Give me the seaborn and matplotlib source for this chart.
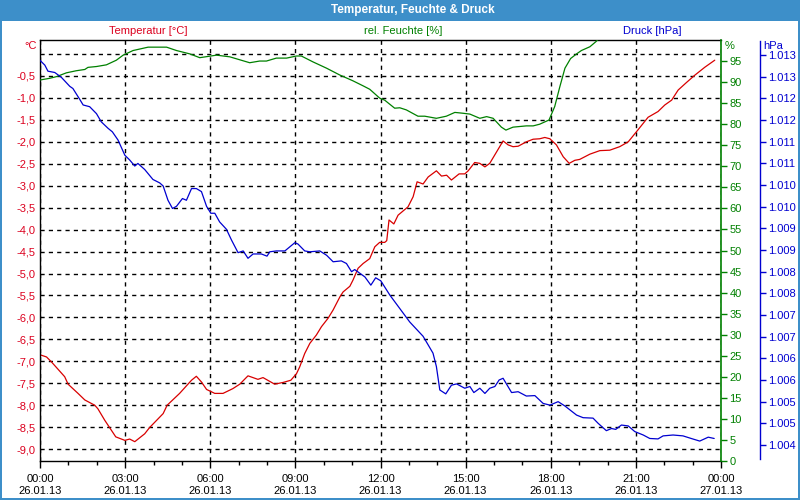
import numpy as np
import pandas as pd
import matplotlib
matplotlib.use("Agg")
import matplotlib.pyplot as plt
import seaborn as sns
from matplotlib.ticker import FixedLocator, FuncFormatter, MultipleLocator
from matplotlib.patches import Rectangle

# ---------------- data ----------------
temp_hours = [0.0,0.23,0.40,0.87,0.99,1.34,1.58,1.93,2.04,2.28,2.67,2.99,3.16,3.34,3.69,3.86,4.34,4.48,4.92,5.34,5.51,5.69,5.87,6.16,6.45,6.80,7.04,7.33,7.68,7.86,8.27,8.57,8.84,9.04,9.15,9.33,9.51,9.74,9.92,10.15,10.33,10.57,10.68,10.92,11.03,11.21,11.39,11.62,11.80,11.97,12.15,12.22,12.30,12.47,12.62,12.97,13.15,13.29,13.50,13.68,13.97,14.15,14.33,14.50,14.77,14.97,15.09,15.32,15.50,15.68,15.85,16.09,16.32,16.50,16.67,16.85,17.14,17.38,17.61,17.79,17.97,18.20,18.44,18.65,18.85,19.02,19.38,19.73,20.08,20.43,20.73,21.02,21.43,21.78,22.02,22.26,22.49,22.78,23.08,23.43,23.78]
temp_values = [-6.85,-6.90,-7.01,-7.35,-7.52,-7.73,-7.88,-8.00,-8.08,-8.34,-8.72,-8.80,-8.77,-8.83,-8.65,-8.51,-8.19,-8.00,-7.73,-7.43,-7.34,-7.47,-7.64,-7.73,-7.73,-7.62,-7.52,-7.33,-7.41,-7.37,-7.52,-7.48,-7.43,-7.28,-7.13,-6.82,-6.59,-6.40,-6.21,-6.02,-5.83,-5.53,-5.42,-5.29,-5.15,-4.88,-4.77,-4.66,-4.39,-4.29,-4.29,-4.25,-3.78,-3.87,-3.67,-3.48,-3.25,-2.91,-2.96,-2.80,-2.66,-2.78,-2.76,-2.87,-2.73,-2.73,-2.66,-2.47,-2.49,-2.57,-2.49,-2.23,-1.98,-2.07,-2.11,-2.10,-2.00,-1.94,-1.93,-1.90,-1.93,-2.07,-2.34,-2.49,-2.42,-2.40,-2.28,-2.20,-2.19,-2.11,-2.00,-1.77,-1.44,-1.31,-1.16,-1.05,-0.82,-0.65,-0.48,-0.30,-0.14]

hum_hours = [0.0,0.34,0.58,0.93,1.28,1.58,1.69,1.99,2.34,2.69,2.93,3.28,3.81,4.46,4.81,5.28,5.63,6.22,6.69,7.39,7.74,7.98,8.33,8.69,9.04,9.21,9.62,10.10,10.56,11.03,11.39,11.62,11.97,12.15,12.50,12.68,12.91,13.32,13.56,13.97,14.32,14.62,14.91,15.15,15.50,15.74,15.97,16.26,16.42,16.67,17.14,17.38,17.61,17.94,18.14,18.32,18.50,18.70,18.91,19.08,19.38,19.59,19.65]
hum_values = [90.5,90.9,91.3,92.2,92.7,93.0,93.5,93.7,94.1,95.2,96.4,97.5,98.3,98.3,97.5,96.7,95.8,96.4,96.0,94.6,95.0,95.0,95.7,95.7,96.2,96.2,94.8,93.3,91.7,90.3,89.1,88.3,86.2,85.7,83.8,83.9,83.4,81.9,81.9,81.4,81.9,82.8,82.6,82.4,81.4,81.8,81.4,79.3,78.6,79.3,79.6,79.6,80.0,81.0,84.2,88.9,93.3,95.6,96.7,97.5,98.4,99.6,100.0]

press_hours = [0.0,0.17,0.28,0.52,0.75,1.05,1.16,1.40,1.52,1.75,1.99,2.16,2.40,2.55,2.75,2.99,3.16,3.34,3.45,3.69,3.98,4.22,4.34,4.51,4.67,4.81,5.02,5.16,5.34,5.51,5.69,5.87,6.02,6.16,6.33,6.57,6.75,6.98,7.16,7.33,7.51,7.80,8.00,8.10,8.33,8.63,8.98,9.09,9.33,9.51,9.86,10.10,10.33,10.62,10.80,10.98,11.09,11.45,11.66,11.83,12.01,12.33,12.68,13.03,13.50,13.68,13.85,13.97,14.09,14.30,14.50,14.68,14.97,15.15,15.29,15.50,15.68,15.85,16.03,16.18,16.32,16.62,16.85,17.14,17.44,17.73,17.97,18.26,18.50,18.91,19.14,19.49,19.67,19.96,20.14,20.29,20.49,20.73,20.96,21.26,21.49,21.78,21.96,22.31,22.66,22.95,23.25,23.55,23.76]
press_values = [1012.88,1012.77,1012.63,1012.60,1012.49,1012.28,1012.23,1011.98,1011.85,1011.81,1011.65,1011.46,1011.31,1011.23,1011.04,1010.69,1010.58,1010.44,1010.50,1010.36,1010.13,1010.05,1009.98,1009.65,1009.46,1009.51,1009.69,1009.65,1009.92,1009.92,1009.85,1009.51,1009.35,1009.35,1009.15,1008.98,1008.73,1008.44,1008.48,1008.31,1008.41,1008.41,1008.36,1008.46,1008.48,1008.48,1008.67,1008.64,1008.48,1008.46,1008.48,1008.38,1008.23,1008.25,1008.19,1008.00,1008.05,1007.88,1007.69,1007.86,1007.79,1007.46,1007.15,1006.84,1006.51,1006.31,1006.12,1005.81,1005.27,1005.18,1005.38,1005.41,1005.31,1005.35,1005.21,1005.31,1005.19,1005.31,1005.35,1005.50,1005.54,1005.21,1005.23,1005.13,1005.14,1004.96,1004.92,1005.00,1004.90,1004.69,1004.63,1004.62,1004.50,1004.33,1004.38,1004.36,1004.46,1004.44,1004.31,1004.23,1004.15,1004.14,1004.21,1004.23,1004.21,1004.15,1004.09,1004.18,1004.15]

x_tick_hours = [0, 3, 6, 9, 12, 15, 18, 21, 24]
x_tick_times = ["00:00", "03:00", "06:00", "09:00", "12:00", "15:00", "18:00", "21:00", "00:00"]
x_tick_dates = ["26.01.13"] * 8 + ["27.01.13"]
temp_ticks = [-9.0, -8.5, -8.0, -7.5, -7.0, -6.5, -6.0, -5.5, -5.0, -4.5, -4.0, -3.5, -3.0, -2.5, -2.0, -1.5, -1.0, -0.5, 0.0]
hum_ticks = [0, 5, 10, 15, 20, 25, 30, 35, 40, 45, 50, 55, 60, 65, 70, 75, 80, 85, 90, 95]
press_ticks = [1004.0, 1004.5, 1005.0, 1005.5, 1006.0, 1006.5, 1007.0, 1007.5, 1008.0, 1008.5,
               1009.0, 1009.5, 1010.0, 1010.5, 1011.0, 1011.5, 1012.0, 1012.5, 1013.0]

title = "Temperatur, Feuchte & Druck"
temp_header = "Temperatur [°C]"
hum_header = "rel. Feuchte [%]"
press_header = "Druck [hPa]"

# ---------------- style ----------------
RED = "#dc001e"
LINE_RED = "#d80000"
GREEN = "#008000"
BLUE = "#0000d0"
BAR = "#3d8fc9"

sns.set_style("white")
plt.rcParams['font.family'] = ['Liberation Sans', 'DejaVu Sans']
FS = 8

W, H = 800, 500
fig = plt.figure(figsize=(8, 5), dpi=100)
fig.patch.set_facecolor("white")

def fy(py):
    return 1 - py / H

ax = fig.add_axes([40 / W, 1 - 461 / H, 681 / W, 421 / H])
ax2 = ax.twinx()
ax3 = ax.twinx()

df_t = pd.DataFrame({"hour": temp_hours, "value": temp_values})
df_h = pd.DataFrame({"hour": hum_hours, "value": hum_values})
df_p = pd.DataFrame({"hour": press_hours, "value": press_values})

sns.lineplot(data=df_t, x="hour", y="value", ax=ax, color=LINE_RED, lw=0.9, estimator=None)
sns.lineplot(data=df_h, x="hour", y="value", ax=ax2, color=GREEN, lw=0.9, estimator=None)
sns.lineplot(data=df_p, x="hour", y="value", ax=ax3, color=BLUE, lw=0.9, estimator=None)

for a in (ax, ax2, ax3):
    a.set_xlabel("")
    a.set_ylabel("")
    a.set_xlim(0, 24)

ax.set_ylim(-9.27, 0.32)
ax2.set_ylim(0, 100)
ax3.set_ylim(1003.63, 1013.35)

# temperature axis
ax.yaxis.set_major_locator(FixedLocator(temp_ticks))
ax.yaxis.set_major_formatter(FuncFormatter(
    lambda v, p: "" if abs(v) < 1e-9 else f"{v:.1f}".replace(".", ",")))
ax.tick_params(axis="y", which="both", left=True, length=0, pad=3,
               labelcolor=RED, labelsize=FS)
ax.xaxis.set_major_locator(FixedLocator(x_tick_hours))
ax.set_xticklabels([f"{t}\n{d}" for t, d in zip(x_tick_times, x_tick_dates)],
                   linespacing=1.35)
ax.xaxis.set_minor_locator(MultipleLocator(1))
ax.tick_params(axis="x", which="major", bottom=True, direction="out", length=5,
               width=1, color="black", labelsize=FS, labelcolor="black", pad=4)
ax.tick_params(axis="x", which="minor", bottom=True, direction="out", length=3,
               width=1, color="black")
ax.grid(True, which="major", color="black", linestyle=(0, (3, 3)), lw=1)
for s in ("left", "top", "bottom"):
    ax.spines[s].set_color("black")
    ax.spines[s].set_linewidth(1)
ax.spines["right"].set_visible(False)

# humidity axis
ax2.grid(False)
for s in ("left", "top", "bottom"):
    ax2.spines[s].set_visible(False)
ax2.spines["right"].set_color(GREEN)
ax2.spines["right"].set_linewidth(1.2)
ax2.yaxis.set_major_locator(FixedLocator(hum_ticks))
ax2.yaxis.set_major_formatter(FuncFormatter(lambda v, p: f"{v:.0f}"))
ax2.tick_params(axis="y", right=True, direction="out", length=4, width=1,
                color=GREEN, labelcolor=GREEN, labelsize=FS, pad=2)

# pressure axis
ax3.grid(False)
for s in ("left", "top", "bottom"):
    ax3.spines[s].set_visible(False)
ax3.spines["right"].set_position(("axes", 720 / 681))
ax3.spines["right"].set_color(BLUE)
ax3.spines["right"].set_linewidth(1)
ax3.spines["right"].set_bounds(1003.68, 1013.33)
ax3.yaxis.set_major_locator(FixedLocator(press_ticks))

def press_fmt(v, p):
    n = int(v + 0.5)
    return f"{n // 1000}.{n % 1000:03d}"

ax3.yaxis.set_major_formatter(FuncFormatter(press_fmt))
ax3.tick_params(axis="y", right=True, direction="out", length=4, width=1,
                color=BLUE, labelcolor=BLUE, labelsize=FS, pad=1.5)

# unit labels
fig.text(37 / W, fy(46), "°C", color=RED, ha="right", va="center", fontsize=FS)
fig.text(725 / W, fy(46), "%", color=GREEN, ha="left", va="center", fontsize=FS)
fig.text(763 / W, fy(46), "hPa", color=BLUE, ha="left", va="center", fontsize=FS)

# headers
fig.text(148 / W, fy(31), temp_header, color=RED, ha="center", va="center", fontsize=FS)
fig.text(403 / W, fy(31), hum_header, color=GREEN, ha="center", va="center", fontsize=FS)
fig.text(652 / W, fy(31), press_header, color=BLUE, ha="center", va="center", fontsize=FS)

# title bar and frame
fig.patches.append(Rectangle((0, 1 - 21 / H), 1, 21 / H, transform=fig.transFigure,
                             facecolor=BAR, edgecolor="none", zorder=0))
fig.patches.append(Rectangle((0, 0), 2 / W, 1, transform=fig.transFigure,
                             facecolor=BAR, edgecolor="none", zorder=0))
fig.patches.append(Rectangle((1 - 2 / W, 0), 2 / W, 1, transform=fig.transFigure,
                             facecolor=BAR, edgecolor="none", zorder=0))
fig.patches.append(Rectangle((0, 0), 1, 2 / H, transform=fig.transFigure,
                             facecolor=BAR, edgecolor="none", zorder=0))
fig.text(413 / W, fy(10.5), title, color="white", ha="center", va="center",
         fontsize=8.5, fontweight="bold")

fig.savefig("out.png", dpi=100)
